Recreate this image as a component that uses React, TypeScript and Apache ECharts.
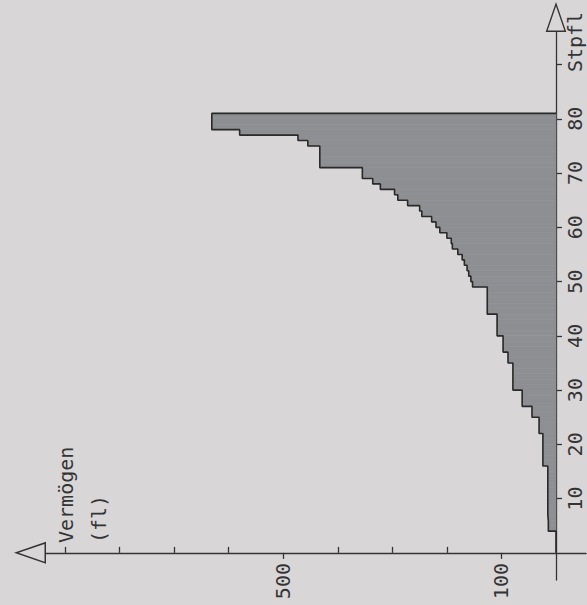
import { useEffect, useRef } from "react";
import * as echarts from "echarts";

// Stpfl = taxpayer rank (sorted by wealth), Vermögen in fl
const taxpayerIndex: number[] = Array.from({ length: 81 }, (_, i) => i + 1);
const wealthFl: number[] = [
  0, 0, 0, 0,
  14, 14, 15, 15, 15, 15, 15, 15, 15, 15, 15, 15,
  24, 24, 24, 24, 24, 24,
  31, 31, 31,
  44, 44,
  62, 62, 62,
  79, 79, 79, 79, 79,
  88, 88,
  97, 97, 97,
  108, 108, 108, 108,
  126, 126, 126, 126, 126,
  153, 156, 160, 163, 168, 172, 180, 190, 192, 200, 213,
  220, 228, 246, 250, 272, 290, 296, 322, 336,
  355, 355,
  433, 433, 433, 433,
  455, 473, 580,
  631, 631, 631,
];

const xTickOut: number[] = [100, 500];
const xTickIn: number[] = [200, 300, 400, 600, 700, 800, 900];
const xLabels: number[] = [100, 500];
const yTicks: number[] = [10, 20, 30, 40, 50, 60, 70, 80, 90];
const yLabels: number[] = [10, 20, 30, 40, 50, 60, 70, 80];

const FONT = "DejaVu Sans Mono";
const INK = "#343434";
const BG = "#d9d6d8";
const ARROW = "path://M11,0L22,32L0,32Z M11,4.6L2.1,30.5L19.9,30.5Z";

export default function App() {
  const ref = useRef<HTMLDivElement>(null);

  useEffect(() => {
    if (!ref.current) return;
    const chart = echarts.init(ref.current, undefined, { renderer: "svg" });

    const outline: number[][] = [[0, 0]];
    taxpayerIndex.forEach((n, k) => {
      outline.push([wealthFl[k], n - 1]);
      outline.push([wealthFl[k], n]);
    });
    outline.push([0, taxpayerIndex[taxpayerIndex.length - 1]]);

    const blocks = taxpayerIndex.map((n, k) => [wealthFl[k], n]);

    chart.setOption({
      animation: false,
      backgroundColor: BG,
      grid: { left: 46, right: 1, top: 32, bottom: 25, outerBoundsMode: "none" },
      xAxis: [
        {
          type: "value",
          inverse: true,
          min: -55,
          max: 935,
          position: "bottom",
          splitLine: { show: false },
          axisLine: {
            show: true,
            onZero: true,
            symbol: [ARROW, "none"],
            symbolSize: [22, 32],
            symbolOffset: [-16, 0],
            lineStyle: { color: INK, width: 1.3 },
          },
          axisTick: {
            show: true,
            inside: false,
            length: 6,
            customValues: xTickOut,
            lineStyle: { color: INK, width: 1.3 },
          },
          axisLabel: {
            show: true,
            customValues: xLabels,
            rotate: 90,
            margin: -17,
            fontFamily: FONT,
            fontSize: 20,
            color: INK,
          },
        },
        {
          type: "value",
          inverse: true,
          min: -55,
          max: 935,
          position: "bottom",
          splitLine: { show: false },
          axisLine: { show: false, onZero: true, onZeroAxisIndex: 0 },
          axisTick: {
            show: true,
            inside: true,
            length: 6,
            customValues: xTickIn,
            lineStyle: { color: INK, width: 1.3 },
          },
          axisLabel: { show: false },
        },
      ],
      yAxis: {
        type: "value",
        min: -5,
        max: 96,
        position: "right",
        splitLine: { show: false },
        axisLine: {
          show: true,
          onZero: true,
          symbol: ["none", ARROW],
          symbolSize: [22, 30],
          symbolOffset: [0, 15],
          lineStyle: { color: INK, width: 1.3 },
        },
        axisTick: {
          show: true,
          inside: false,
          length: 6,
          customValues: yTicks,
          lineStyle: { color: INK, width: 1.3 },
        },
        axisLabel: {
          show: true,
          customValues: yLabels,
          rotate: 90,
          margin: -21,
          fontFamily: FONT,
          fontSize: 20,
          color: INK,
        },
      },
      graphic: [
        {
          type: "text",
          x: 575,
          y: 42,
          rotation: Math.PI / 2,
          style: {
            text: "Stpfl",
            font: `20px "${FONT}"`,
            fill: INK,
            align: "center",
            verticalAlign: "middle",
          },
        },
        {
          type: "text",
          x: 66,
          y: 543,
          rotation: Math.PI / 2,
          style: {
            text: "Vermögen",
            font: `20px "${FONT}"`,
            fill: INK,
            align: "left",
            verticalAlign: "middle",
          },
        },
        {
          type: "text",
          x: 99,
          y: 543,
          rotation: Math.PI / 2,
          style: {
            text: "(fl)",
            font: `20px "${FONT}"`,
            fill: INK,
            align: "left",
            verticalAlign: "middle",
          },
        },
      ],
      series: [
        {
          type: "custom",
          xAxisIndex: 0,
          yAxisIndex: 0,
          encode: { x: 0, y: 1 },
          data: blocks,
          z: 2,
          renderItem: (params: any, api: any) => {
            const v = api.value(0);
            const n = api.value(1);
            if (!v) return null;
            const p0 = api.coord([0, n - 1]);
            const p1 = api.coord([v, n]);
            return {
              type: "rect",
              shape: {
                x: Math.min(p0[0], p1[0]),
                y: Math.min(p0[1], p1[1]),
                width: Math.abs(p1[0] - p0[0]),
                height: Math.abs(p1[1] - p0[1]),
              },
              style: { fill: "#8e8f93", stroke: "#8e8f93", lineWidth: 0.6 },
            };
          },
        },
        {
          type: "line",
          xAxisIndex: 0,
          yAxisIndex: 0,
          data: outline,
          showSymbol: false,
          symbol: "none",
          z: 3,
          lineStyle: { color: "#2a2a2a", width: 1.6 },
        },
      ],
    });

    return () => {
      chart.dispose();
    };
  }, []);

  return (
    <div
      ref={ref}
      style={{ position: "fixed", left: 0, top: 0, width: 587, height: 605, background: BG }}
    />
  );
}
